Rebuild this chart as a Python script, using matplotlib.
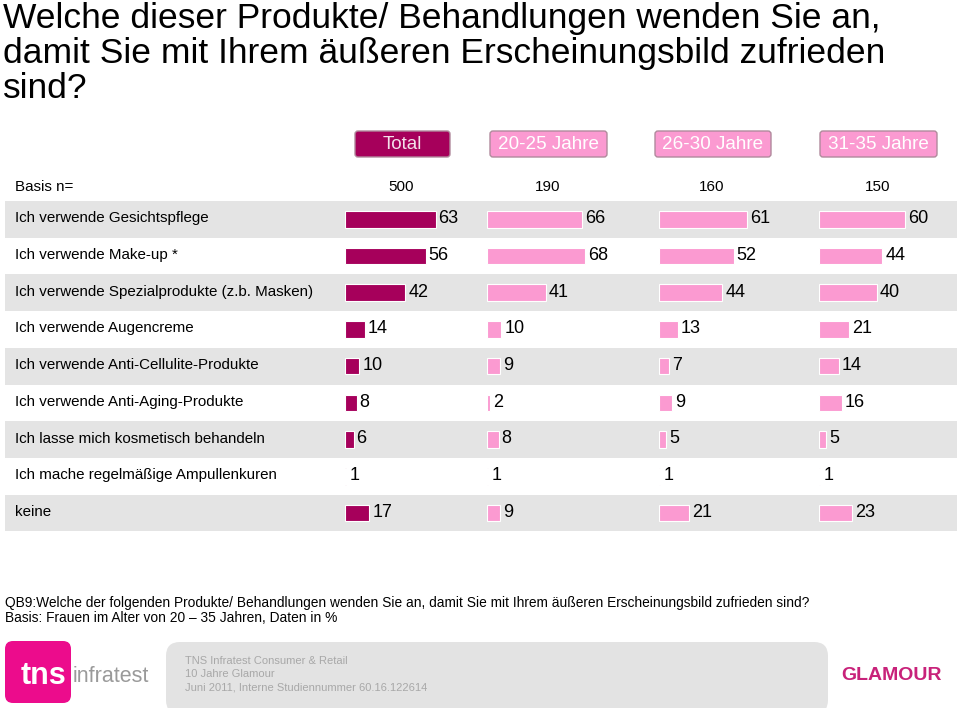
import matplotlib
matplotlib.use("Agg")
import matplotlib.pyplot as plt
from matplotlib.patches import FancyBboxPatch, Rectangle

plt.rcParams['font.family'] = ['Liberation Sans', 'DejaVu Sans']

# --- data ---
title = ("Welche dieser Produkte/ Behandlungen wenden Sie an,\n"
         "damit Sie mit Ihrem äußeren Erscheinungsbild zufrieden\nsind?")
groups = ["Total", "20-25 Jahre", "26-30 Jahre", "31-35 Jahre"]
basis = [500, 190, 160, 150]
categories = [
    "Ich verwende Gesichtspflege",
    "Ich verwende Make-up *",
    "Ich verwende Spezialprodukte (z.b. Masken)",
    "Ich verwende Augencreme",
    "Ich verwende Anti-Cellulite-Produkte",
    "Ich verwende Anti-Aging-Produkte",
    "Ich lasse mich kosmetisch behandeln",
    "Ich mache regelmäßige Ampullenkuren",
    "keine",
]
total = [63, 56, 42, 14, 10, 8, 6, 1, 17]
age_20_25 = [66, 68, 41, 10, 9, 2, 8, 1, 9]
age_26_30 = [61, 52, 44, 13, 7, 9, 5, 1, 21]
age_31_35 = [60, 44, 40, 21, 14, 16, 5, 1, 23]
series = [total, age_20_25, age_26_30, age_31_35]
footnote = ("QB9:Welche der folgenden Produkte/ Behandlungen wenden Sie an, damit Sie mit Ihrem äußeren "
            "Erscheinungsbild zufrieden sind?\nBasis: Frauen im Alter von 20 – 35 Jahren, Daten in %")
footer = "TNS Infratest Consumer & Retail\n10 Jahre Glamour\nJuni 2011, Interne Studiennummer 60.16.122614"

DARK = "#A6005B"
PINK = "#FB9AD1"
GREY = "#E4E4E4"

W, H = 960, 708
fig = plt.figure(figsize=(W / 100, H / 100), dpi=100)

# background axes in pixel coordinates for layout elements
bg = fig.add_axes([0, 0, 1, 1])
bg.set_xlim(0, W)
bg.set_ylim(H, 0)
bg.axis("off")

bg.text(3, 2, title, fontsize=25.5, va="top", ha="left", linespacing=1.08)

# header boxes
box_x = [(355, 450), (490, 607), (655, 771), (820, 937)]
for i, (g, (x0, x1)) in enumerate(zip(groups, box_x)):
    fc = DARK if i == 0 else PINK
    bg.add_patch(FancyBboxPatch((x0, 131), x1 - x0, 26, boxstyle="round,pad=0,rounding_size=3",
                                fc=fc, ec="#B08A9C", lw=1))
    bg.text((x0 + x1) / 2, 144.5, g, color="white" if i else "#F3E0EA", fontsize=13.6,
            ha="center", va="center")
    bg.text((x0 + x1) / 2 - 1, 187, str(basis[i]), fontsize=11, ha="center", va="center")
bg.text(15, 187, "Basis n=", fontsize=10.9, ha="left", va="center")

# row bands and labels
top, row_h = 201, 36.7
for r, cat in enumerate(categories):
    y0 = top + r * row_h
    if r % 2 == 0:
        bg.add_patch(Rectangle((5, y0), W - 8, row_h, fc=GREY, ec="none"))
    bg.text(15, y0 + row_h / 2 - 1, cat, fontsize=10.9, ha="left", va="center")

# bar groups: 1.44 px per percentage point
px_per_unit = 1.44
starts = [345, 487, 659, 819]
for i, (x0, vals) in enumerate(zip(starts, series)):
    span = 100 * px_per_unit
    ax = fig.add_axes([x0 / W, 1 - (top + 9 * row_h) / H, span / W, 9 * row_h / H])
    ax.patch.set_alpha(0)
    ax.set_xlim(0, 100)
    ax.set_ylim(8.5, -0.5)
    ax.axis("off")
    ypos = range(len(vals))
    ax.barh(ypos, vals, height=0.45, color=DARK if i == 0 else PINK, edgecolor="white", lw=0.8)
    for y, v in zip(ypos, vals):
        ax.text(v + 2.0, y - 0.02, str(v), fontsize=13, ha="left", va="center", clip_on=False)

# footnote
bg.text(5, 596, footnote, fontsize=9.9, ha="left", va="top", linespacing=1.07)

# footer
bg.add_patch(FancyBboxPatch((166, 642), 662, 72, boxstyle="round,pad=0,rounding_size=14",
                            fc="#E3E3E3", ec="none"))
bg.text(185, 656, footer, fontsize=8, color="#A8A8A8", ha="left", va="top", linespacing=1.4)
bg.add_patch(FancyBboxPatch((5, 641), 66, 62, boxstyle="round,pad=0,rounding_size=8",
                            fc="#EC0C8C", ec="none"))
bg.text(21, 676, "tns", fontsize=22, color="white", fontweight="bold", ha="left", va="center")
bg.text(73, 677, "infratest", fontsize=15.5, color="#9A9A9A", ha="left", va="center")
bg.text(891, 675, "GLAMOUR", fontsize=14, color="#C8227A", fontweight="bold",
        ha="center", va="center")

fig.savefig("out.png", dpi=100)
